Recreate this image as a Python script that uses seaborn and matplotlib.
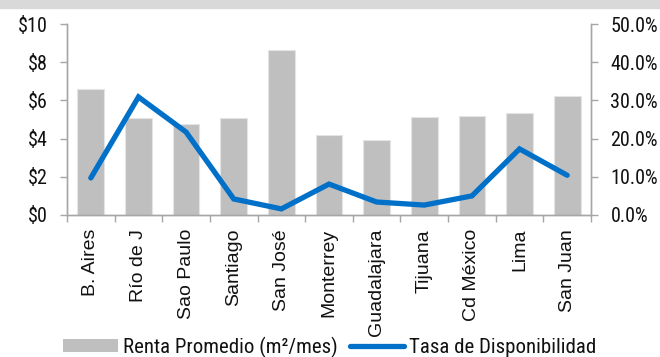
import matplotlib
matplotlib.use("Agg")
import matplotlib.pyplot as plt
import seaborn as sns
import numpy as np
import pandas as pd
from matplotlib.patches import Rectangle, Patch
from matplotlib.lines import Line2D
from matplotlib.ticker import FuncFormatter, MultipleLocator, FixedLocator

cities = ["B. Aires", "Río de J", "Sao Paulo", "Santiago", "San José", "Monterrey",
          "Guadalajara", "Tijuana", "Cd México", "Lima", "San Juan"]
renta = [6.6, 5.08, 4.78, 5.08, 8.63, 4.19, 3.93, 5.13, 5.17, 5.33, 6.23]
tasa = [9.7, 30.9, 21.7, 4.2, 1.6, 8.1, 3.4, 2.6, 5.0, 17.3, 10.4]
legend_labels = ["Renta Promedio (m²/mes)", "Tasa de Disponibilidad"]

sns.set_theme(style="white")
plt.rcParams['font.family'] = ['Roboto Condensed', 'DejaVu Sans']

BAR = "#BFBFBF"
LINE = "#0070C8"
AXC = "#A6A6A6"
TXT = "#111111"

fig = plt.figure(figsize=(6.6, 3.57), dpi=100)
fig.add_artist(Rectangle((0, 1 - 8 / 357), 1, 8 / 357, transform=fig.transFigure,
                         color="#D9D9D9", zorder=0))
ax = fig.add_axes([67 / 660, 1 - 215 / 357, (591 - 67) / 660, (215 - 24) / 357])

df = pd.DataFrame({"ciudad": cities, "renta": renta, "tasa": tasa,
                   "pos": np.arange(len(cities))})
sns.barplot(data=df, x="ciudad", y="renta", color=BAR, saturation=1, width=0.56,
            edgecolor="#E4E4E4", linewidth=0.8, ax=ax)
ax.set_xlim(-0.5, len(cities) - 0.5)
ax.set_ylim(0, 10)
ax.yaxis.set_major_locator(MultipleLocator(2))
ax.yaxis.set_major_formatter(FuncFormatter(lambda v, p: f"${v:.0f}"))
ax.set_xlabel("")
ax.set_ylabel("")

ax2 = ax.twinx()
sns.lineplot(data=df, x="pos", y="tasa", color=LINE, linewidth=3.8, ax=ax2,
             solid_capstyle="round", solid_joinstyle="miter")
ax2.set_ylim(0, 50)
ax2.yaxis.set_major_locator(MultipleLocator(10))
ax2.yaxis.set_major_formatter(FuncFormatter(lambda v, p: f"{v:.1f}%"))
ax2.set_xlim(-0.5, len(cities) - 0.5)
ax2.set_ylabel("")

for a in (ax, ax2):
    a.spines["top"].set_visible(False)
    for s in ("left", "right", "bottom"):
        a.spines[s].set_color(AXC)
        a.spines[s].set_linewidth(1.0)

ax.tick_params(axis="y", which="major", left=True, length=5, width=1, color=AXC,
               labelsize=14.5, pad=9, labelcolor=TXT)
ax2.tick_params(axis="y", which="major", right=True, length=5, width=1, color=AXC,
                labelsize=14.5, pad=9, labelcolor=TXT)
ax.tick_params(axis="x", which="major", length=0, pad=10)
ax.xaxis.set_minor_locator(FixedLocator(np.arange(-0.5, len(cities), 1.0)))
ax.tick_params(axis="x", which="minor", bottom=True, length=5, width=1, color=AXC)
for lbl in ax.get_xticklabels():
    lbl.set_rotation(90)
    lbl.set_fontfamily(['Liberation Sans', 'DejaVu Sans'])
    lbl.set_fontsize(14)
    lbl.set_color(TXT)
    lbl.set_va("top")
    lbl.set_ha("center")

handles = [Patch(facecolor=BAR, edgecolor="none"),
           Line2D([0], [0], color=LINE, linewidth=3.8, solid_capstyle="round")]
fig.legend(handles, legend_labels, loc="center", bbox_to_anchor=(0.5, 1 - 347 / 357),
           ncol=2, frameon=False, fontsize=15, handlelength=2.6, handleheight=0.6,
           handletextpad=0.25, columnspacing=0.6, labelcolor=TXT)

fig.savefig("out.png", dpi=100)
